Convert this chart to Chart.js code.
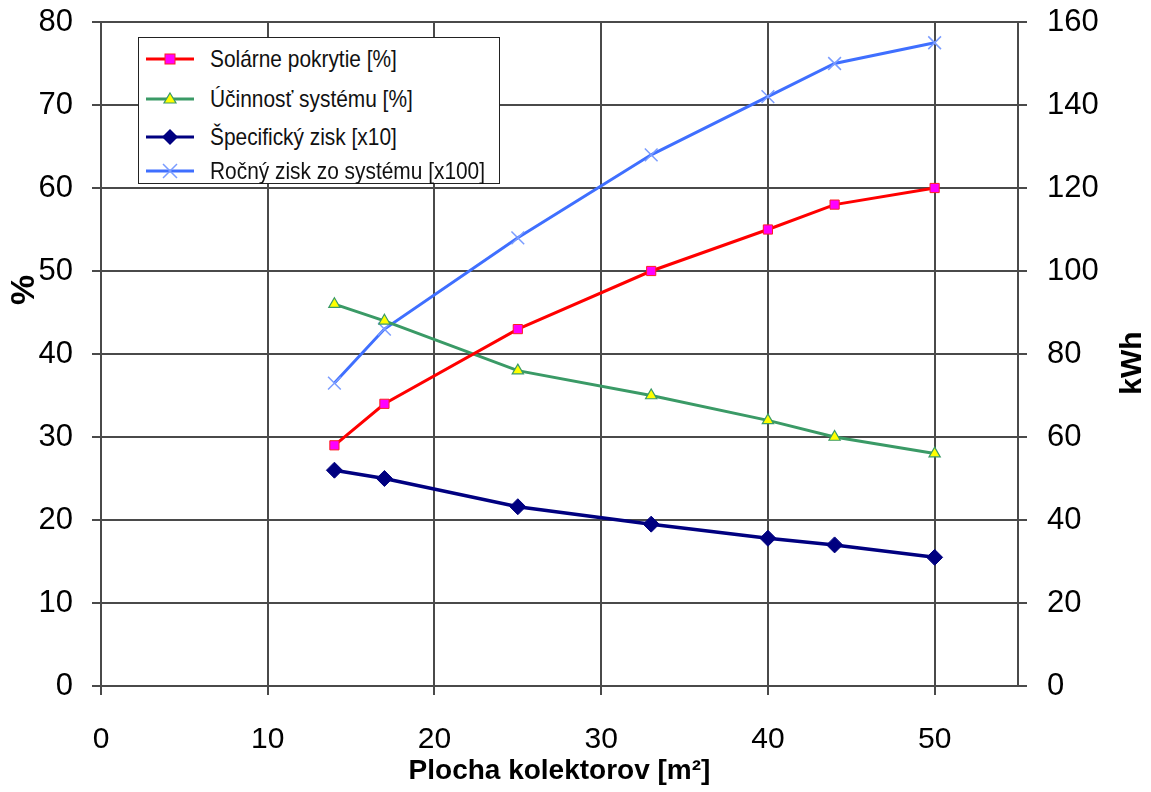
<!DOCTYPE html>
<html>
<head>
<meta charset="utf-8">
<script src="https://cdn.jsdelivr.net/npm/chart.js@4.4.1/dist/chart.umd.min.js"></script>
<style>
  html, body { margin: 0; padding: 0; background: #fff; }
  #wrap { position: relative; width: 1151px; height: 792px; }
  canvas { display: block; }
  #legend {
    position: absolute; left: 138px; top: 37px; width: 362px; height: 147px;
    border: 1.5px solid #222; background: #fff; box-sizing: border-box;
    font-family: "Liberation Sans", Arial, sans-serif;
    font-size: 24px; color: #111;
  }
  .row { position: absolute; left: 0; height: 30px; display: flex; align-items: center; }
  .row svg { margin-left: 7px; flex: none; }
  .row span { margin-left: 14px; white-space: nowrap; display: inline-block; transform: scaleX(0.87); transform-origin: left center; }
</style>
</head>
<body>
<div id="wrap">
  <canvas id="c" width="1151" height="792"></canvas>
  <div id="legend"></div>
</div>
<script>
// ---- data ----
const area = [14, 17, 25, 33, 40, 44, 50];                 // Plocha kolektorov [m²]
const solarCoverage = [29, 34, 43, 50, 55, 58, 60];        // Solárne pokrytie [%]
const systemEfficiency = [46, 44, 38, 35, 32, 30, 28];     // Účinnosť systému [%]
const specificGain = [26, 25, 21.6, 19.5, 17.8, 17, 15.5]; // Špecifický zisk [x10]
const annualGain = [73, 86, 108, 128, 142, 150, 155];      // Ročný zisk zo systému [x100] (kWh axis)
const seriesNames = ["Solárne pokrytie [%]", "Účinnosť systému [%]", "Špecifický zisk [x10]", "Ročný zisk zo systému [x100]"];
const xTicks = [0, 10, 20, 30, 40, 50];
const xTitle = "Plocha kolektorov [m²]";
const yLeftTitle = "%";
const yRightTitle = "kWh";

const pts = (ys) => area.map((x, i) => ({ x: x, y: ys[i] }));

const gridColor = '#4a4a4a';

const axisTitles = {
  id: 'axisTitles',
  afterDraw(chart) {
    const ctx = chart.ctx;
    ctx.save();
    ctx.fillStyle = '#000';
    ctx.textAlign = 'center';
    ctx.textBaseline = 'middle';
    ctx.font = 'bold 34px "Liberation Sans", Arial, sans-serif';
    ctx.translate(25, 290);
    ctx.rotate(-Math.PI / 2);
    ctx.fillText(yLeftTitle, 0, 0);
    ctx.restore();
    ctx.save();
    ctx.fillStyle = '#000';
    ctx.textAlign = 'center';
    ctx.textBaseline = 'middle';
    ctx.font = 'bold 30px "Liberation Sans", Arial, sans-serif';
    ctx.translate(1133, 363);
    ctx.rotate(-Math.PI / 2);
    ctx.fillText(yRightTitle, 0, 0);
    ctx.restore();
  }
};

const datasets = [
  { label: seriesNames[0], data: pts(solarCoverage), yAxisID: 'y',
    borderColor: '#ff0000', borderWidth: 3, pointStyle: 'rect', pointRadius: 6.5,
    pointBackgroundColor: '#ff00ff', pointBorderColor: '#ff2020', pointBorderWidth: 1 },
  { label: seriesNames[1], data: pts(systemEfficiency), yAxisID: 'y',
    borderColor: '#3a9a66', borderWidth: 3, pointStyle: 'triangle', pointRadius: 6.5,
    pointBackgroundColor: '#ffff00', pointBorderColor: '#3a9a66', pointBorderWidth: 1.2 },
  { label: seriesNames[2], data: pts(specificGain), yAxisID: 'y',
    borderColor: '#000080', borderWidth: 3.5, pointStyle: 'rectRot', pointRadius: 8,
    pointBackgroundColor: '#000080', pointBorderColor: '#000080', pointBorderWidth: 1 },
  { label: seriesNames[3], data: pts(annualGain), yAxisID: 'y1',
    borderColor: '#3f6fff', borderWidth: 3, pointStyle: 'crossRot', pointRadius: 9,
    pointBackgroundColor: '#7a9cff', pointBorderColor: '#7a9cff', pointBorderWidth: 1.5 }
];

Chart.defaults.font.family = '"Liberation Sans", Arial, sans-serif';
Chart.defaults.color = '#000';

const fitY = (w) => (s) => { s.width = w; s.paddingTop = 0; s.paddingBottom = 0; };

new Chart(document.getElementById('c'), {
  type: 'line',
  data: { datasets: datasets },
  options: {
    responsive: false,
    animation: false,
    layout: { padding: { top: 22, left: 0, right: 0, bottom: 0 } },
    plugins: { legend: { display: false }, tooltip: { enabled: false } },
    elements: { line: { tension: 0 } },
    scales: {
      x: {
        type: 'linear', min: 0, max: 55,
        afterBuildTicks: (s) => { s.ticks = xTicks.map(v => ({ value: v })); },
        afterFit: (s) => { s.height = 106; s.paddingLeft = 0; s.paddingRight = 0; },
        ticks: { font: { size: 30 }, padding: 27, color: '#000' },
        grid: { color: gridColor, lineWidth: 2, tickLength: 9, drawTicks: true },
        border: { color: gridColor, width: 2 },
        title: { display: true, text: xTitle, color: '#000',
          font: { size: 28, weight: 'bold' },
          padding: { top: 0, bottom: 4 } }
      },
      y: {
        position: 'left', min: 0, max: 80,
        afterFit: fitY(101),
        ticks: { stepSize: 10, font: { size: 31 }, padding: 19, color: '#000' },
        grid: { color: gridColor, lineWidth: 2, tickLength: 9 },
        border: { color: gridColor, width: 2 }
      },
      y1: {
        position: 'right', min: 0, max: 160,
        afterFit: fitY(133),
        ticks: { stepSize: 20, font: { size: 31 }, padding: 20, color: '#000' },
        grid: { color: gridColor, lineWidth: 2, tickLength: 9, drawOnChartArea: false },
        border: { color: gridColor, width: 2 }
      }
    }
  },
  plugins: [axisTitles]
});

// ---- HTML legend ----
const legend = document.getElementById('legend');
const rowTops = [6, 46, 84, 118];
const markerSvg = [
  '<rect x="19" y="4" width="10" height="10" fill="#ff00ff" stroke="#ff2020" stroke-width="1"/>',
  '<polygon points="24,3 30,13 18,13" fill="#ffff00" stroke="#3a9a66" stroke-width="1.2"/>',
  '<polygon points="24,1 32,9 24,17 16,9" fill="#000080"/>',
  '<path d="M17 2 L31 16 M31 2 L17 16" stroke="#7a9cff" stroke-width="1.5"/>'
];
datasets.forEach((d, i) => {
  const row = document.createElement('div');
  row.className = 'row';
  row.style.top = rowTops[i] + 'px';
  row.innerHTML = '<svg width="50" height="18" viewBox="0 0 50 18">' +
    '<line x1="0" y1="9" x2="48" y2="9" stroke="' + d.borderColor + '" stroke-width="3"/>' +
    markerSvg[i] + '</svg><span>' + d.label + '</span>';
  legend.appendChild(row);
});
</script>
</body>
</html>
